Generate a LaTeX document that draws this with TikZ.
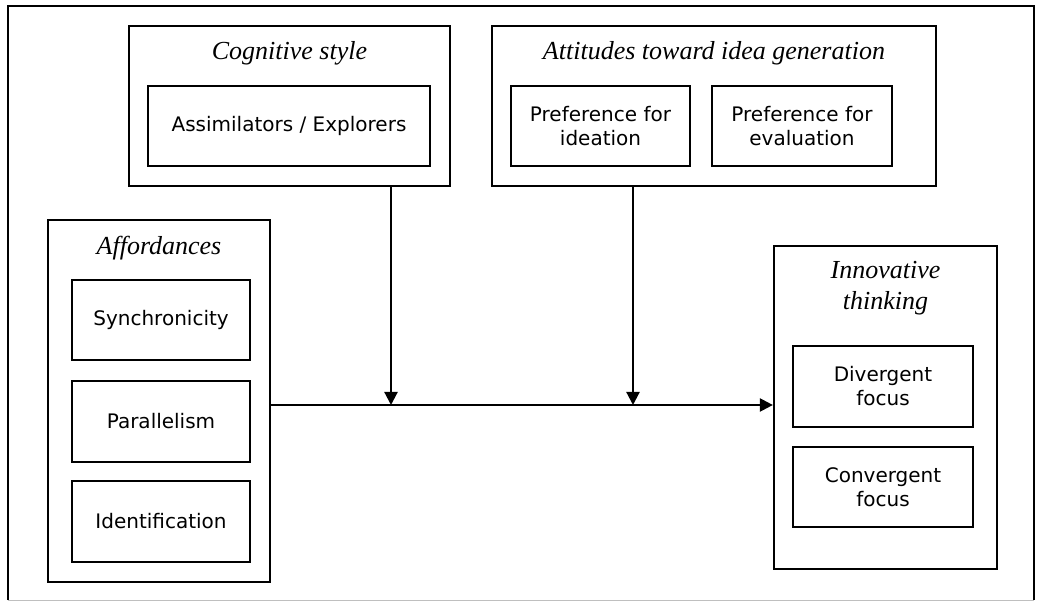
\documentclass[tikz,border=0pt]{standalone}
\usepackage{fontspec}
\setmainfont{Liberation Serif}
\newfontfamily\boxfont{DejaVu Sans}
\usetikzlibrary{arrows.meta}
\tikzset{
  grp/.style={draw, line width=2.2pt, inner sep=0pt},
  itembox/.style={draw, line width=2.2pt, inner sep=0pt, align=center,
    font=\boxfont\fontsize{20}{24}\selectfont},
  ttl/.style={inner sep=0pt, align=center, font=\itshape\fontsize{26}{31}\selectfont},
  arr/.style={line width=2.2pt, -{Triangle[length=13pt,width=13pt]}},
}
\begin{document}
\begin{tikzpicture}[x=1pt,y=-1pt]
\useasboundingbox (0,0) rectangle (1039,601);
% outer frame
\draw[line width=2.2pt] (8,600) -- (8,6) -- (1034,6) -- (1034,600);
\draw[line width=1pt, black!25] (8,600) -- (1034,600);

% Cognitive style
\node[grp, minimum width=321pt, minimum height=160pt] (cog) at (289.5,106) {};
\node[ttl] (cogt) at (289.5,53) {Cognitive style};
\node[itembox, minimum width=282pt, minimum height=80pt] (assim) at (289,126) {Assimilators / Explorers};

% Attitudes
\node[grp, minimum width=444pt, minimum height=160pt] (att) at (714,106) {};
\node[ttl] (attt) at (714,53) {Attitudes toward idea generation};
\node[itembox, minimum width=179pt, minimum height=80pt] (ideat) at (600.5,126) {Preference for\\ideation};
\node[itembox, minimum width=180pt, minimum height=80pt] (evalu) at (802,126) {Preference for\\evaluation};

% Affordances
\node[grp, minimum width=222pt, minimum height=362pt] (aff) at (159,401) {};
\node[ttl] (afft) at (159,248) {Affordances};
\node[itembox, minimum width=178pt, minimum height=80pt] (sync) at (161,320) {Synchronicity};
\node[itembox, minimum width=178pt, minimum height=81pt] (para) at (161,421.5) {Parallelism};
\node[itembox, minimum width=178pt, minimum height=81pt] (ident) at (161,521.5) {Identification};

% Innovative thinking
\node[grp, minimum width=223pt, minimum height=323pt] (inn) at (885.5,407.5) {};
\node[ttl] (innt) at (885.5,288) {Innovative\\thinking};
\node[itembox, minimum width=180pt, minimum height=81pt] (div) at (883,386.5) {Divergent\\focus};
\node[itembox, minimum width=180pt, minimum height=80pt] (conv) at (883,487) {Convergent\\focus};

% connectors
\coordinate (m1) at (391,405);
\coordinate (m2) at (633,405);
\draw[arr] (aff.east |- m1) -- (inn.west |- m1);
\draw[arr] (cog.south -| m1) -- (m1);
\draw[arr] (att.south -| m2) -- (m2);
\end{tikzpicture}
\end{document}
